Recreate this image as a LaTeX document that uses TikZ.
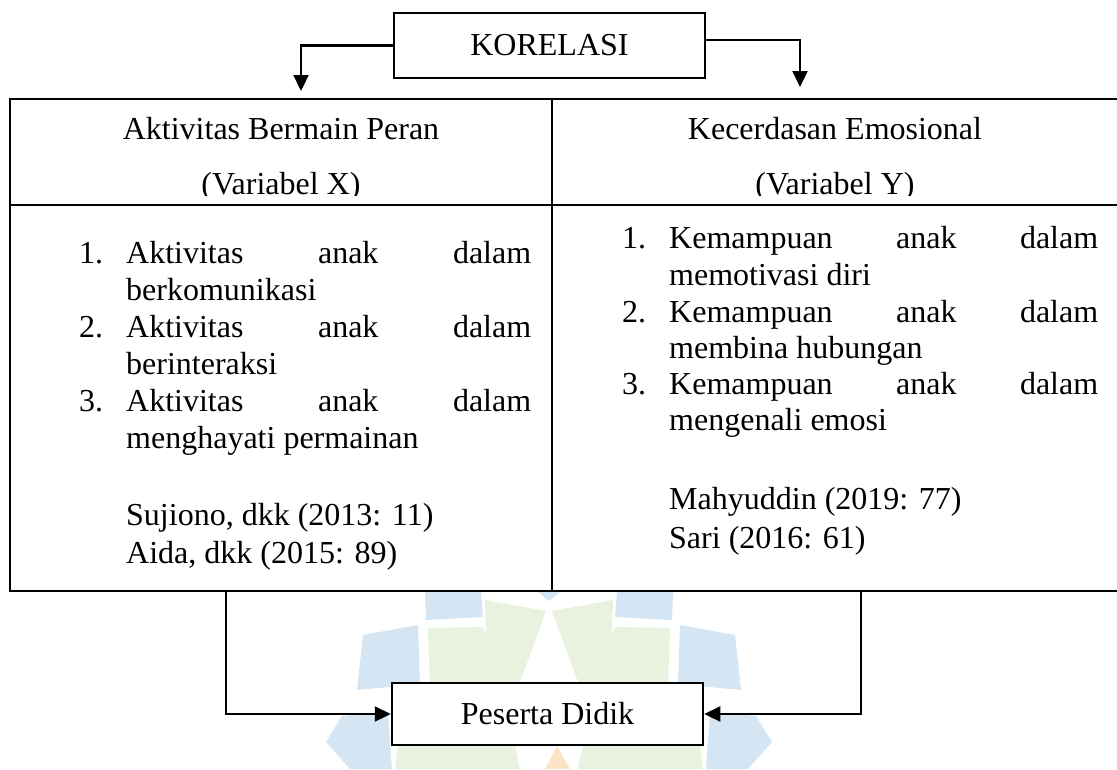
\documentclass[tikz,border=0pt]{standalone}
\usepackage{fontspec}
\setmainfont{Liberation Serif}
\usetikzlibrary{arrows.meta,calc}
\definecolor{wmblue}{RGB}{212,229,244}
\definecolor{wmgreen}{RGB}{232,242,222}
\definecolor{wmorange}{RGB}{251,228,198}
\begin{document}
\begin{tikzpicture}[x=1pt,y=-1pt,
  txt/.style={inner sep=0pt, font=\fontsize{32}{37}\selectfont},
  box/.style={draw, line width=2.5pt, fill=white, minimum width=311pt, inner sep=0pt, font=\fontsize{32}{37}\selectfont},
  conn/.style={line width=2.3pt, -{Triangle[length=16pt,width=15pt]}},
  rule/.style={line width=2.6pt},
  wmb/.style={fill=wmblue},
  wmg/.style={fill=wmgreen},
  wmo/.style={fill=wmorange}]
\useasboundingbox (0,0) rectangle (1117,769);
% ---- watermark (faint logo) ----
\fill[wmb] (537,591) -- (561,591) -- (549,601) -- cycle;
\fill[wmb] (425,591) -- (481,591) -- (483,617) -- (426,620) -- cycle;
\fill[wmb] (673,591) -- (617,591) -- (615,617) -- (672,620) -- cycle;
\fill[wmb] (363,635) -- (418,625) -- (420,684) -- (357,690) -- cycle;
\fill[wmb] (735,635) -- (680,625) -- (678,684) -- (741,690) -- cycle;
\fill[wmb] (342,716) -- (388,712) -- (392,769) -- (350,769) -- (326,742) -- cycle;
\fill[wmb] (756,716) -- (710,712) -- (706,769) -- (748,769) -- (772,742) -- cycle;
\fill[wmg] (485,600) -- (546,611) -- (517,690) -- (488,690) -- cycle;
\fill[wmg] (613,600) -- (552,611) -- (581,690) -- (610,690) -- cycle;
\fill[wmg] (428,628) -- (483,627) -- (508,690) -- (430,690) -- cycle;
\fill[wmg] (670,628) -- (615,627) -- (590,690) -- (668,690) -- cycle;
\fill[wmg] (398,745) -- (515,745) -- (520,769) -- (395,769) -- cycle;
\fill[wmg] (700,745) -- (583,745) -- (578,769) -- (703,769) -- cycle;
\fill[wmo] (545,769) -- (557,746) -- (570,769) -- cycle;
% ---- table ----
\coordinate (tl) at (10,99);
\coordinate (tr) at (1117,99);
\coordinate (hl) at (10,205);
\coordinate (hr) at (1117,205);
\coordinate (bl) at (10,591);
\coordinate (br) at (1117,591);
\coordinate (dt) at (552,99);
\coordinate (db) at (552,591);
\draw[rule] (tr) -- (tl) -- (bl) -- (br);
\draw[rule] (hl) -- (hr);
\draw[rule] (dt) -- (db);
% headers
\begin{scope}
\clip (10,99) rectangle (1117,195.5);
\node[txt, anchor=base] (hx1) at (281,139) {Aktivitas Bermain Peran};
\node[txt, anchor=base] (hx2) at (281,194) {(Variabel X)};
\node[txt, anchor=base] (hy1) at (835,139) {Kecerdasan Emosional};
\node[txt, anchor=base] (hy2) at (835,194) {(Variabel Y)};
\end{scope}
% left list
\node[txt, anchor=base west] (ln1) at (79,263) {1.};
\node[txt, anchor=base west] (lt1) at (126,263) {\makebox[405pt][l]{Aktivitas\hfill anak\hfill dalam}};
\node[txt, anchor=base west] (lt1b) at (126,300) {berkomunikasi};
\node[txt, anchor=base west] (ln2) at (79,337) {2.};
\node[txt, anchor=base west] (lt2) at (126,337) {\makebox[405pt][l]{Aktivitas\hfill anak\hfill dalam}};
\node[txt, anchor=base west] (lt2b) at (126,374) {berinteraksi};
\node[txt, anchor=base west] (ln3) at (79,411) {3.};
\node[txt, anchor=base west] (lt3) at (126,411) {\makebox[405pt][l]{Aktivitas\hfill anak\hfill dalam}};
\node[txt, anchor=base west] (lt3b) at (126,448) {menghayati permainan};
\node[txt, anchor=base west] (lr1) at (126,525) {Sujiono, dkk (2013: 11)};
\node[txt, anchor=base west] (lr2) at (126,563) {Aida, dkk (2015: 89)};
% right list
\node[txt, anchor=base west] (rn1) at (622,248) {1.};
\node[txt, anchor=base west] (rt1) at (669,248) {\makebox[429pt][l]{Kemampuan\hfill anak\hfill dalam}};
\node[txt, anchor=base west] (rt1b) at (669,285) {memotivasi diri};
\node[txt, anchor=base west] (rn2) at (622,322) {2.};
\node[txt, anchor=base west] (rt2) at (669,322) {\makebox[429pt][l]{Kemampuan\hfill anak\hfill dalam}};
\node[txt, anchor=base west] (rt2b) at (669,358) {membina hubungan};
\node[txt, anchor=base west] (rn3) at (622,394) {3.};
\node[txt, anchor=base west] (rt3) at (669,394) {\makebox[429pt][l]{Kemampuan\hfill anak\hfill dalam}};
\node[txt, anchor=base west] (rt3b) at (669,430) {mengenali emosi};
\node[txt, anchor=base west] (rr1) at (669,509) {Mahyuddin (2019: 77)};
\node[txt, anchor=base west] (rr2) at (669,548) {Sari (2016: 61)};
% ---- boxes ----
\node[box, minimum height=65pt] (kor) at (549.5,45.5) {KORELASI};
\node[box, minimum height=62pt] (pd) at (547.5,714) {Peserta Didik};
% ---- connectors ----
\coordinate (xin) at (301,91);
\coordinate (yin) at (800,87);
\coordinate (xout) at (226,591);
\coordinate (yout) at (861,591);
\draw[conn] (kor.west) -| (xin);
\draw[conn] ($(kor.east)+(0,-5.5)$) -| (yin);
\draw[conn] (xout) |- (pd.west);
\draw[conn] (yout) |- (pd.east);
\end{tikzpicture}
\end{document}
